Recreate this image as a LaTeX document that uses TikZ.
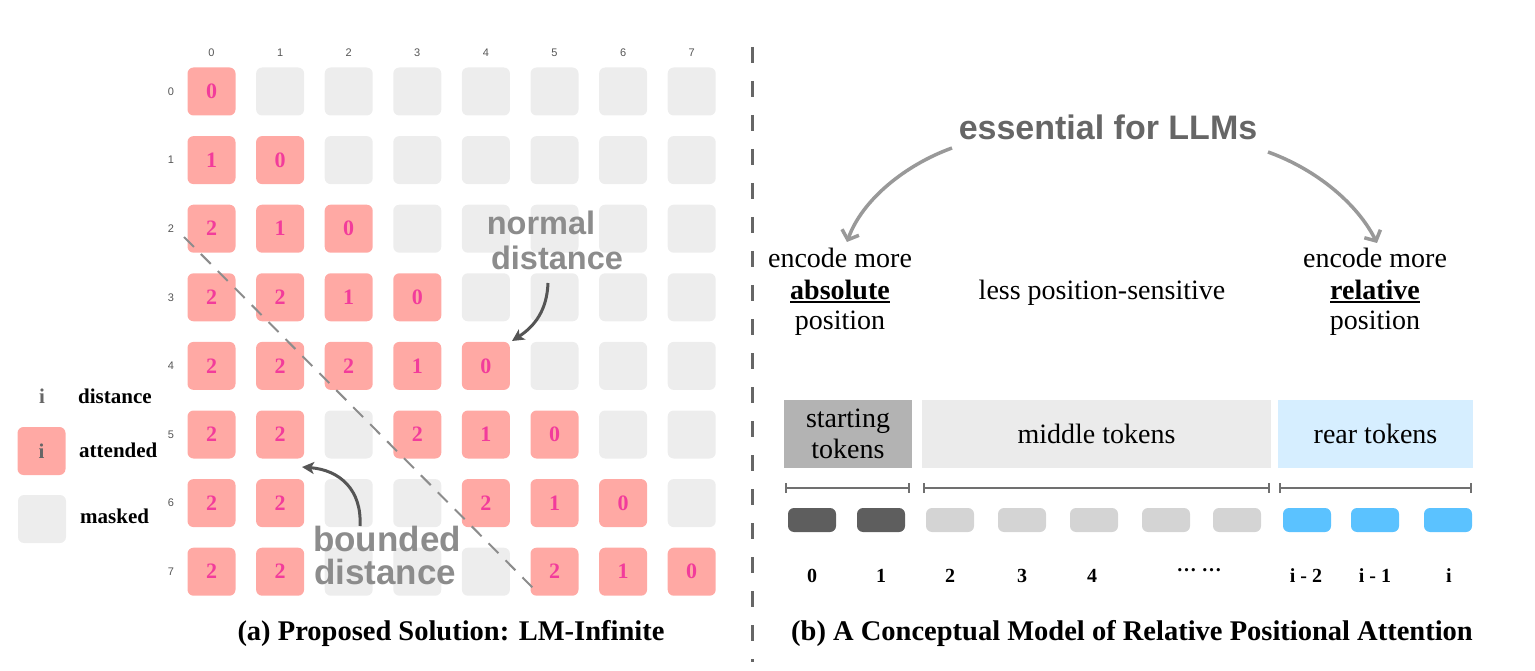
\documentclass[tikz,border=0pt]{standalone}
\usepackage{fontspec}
\setmainfont{Liberation Serif}
\newfontfamily\hsans{Liberation Sans}
\usetikzlibrary{arrows.meta}
\definecolor{pinkc}{HTML}{FFA9A4}
\definecolor{numc}{HTML}{F23C9B}
\definecolor{maskc}{HTML}{EDEDED}
\definecolor{axisc}{HTML}{555555}
\definecolor{notec}{HTML}{8C8C8C}
\definecolor{darkarr}{HTML}{555555}
\definecolor{ligharr}{HTML}{999999}
\definecolor{startc}{HTML}{B3B3B3}
\definecolor{midc}{HTML}{EBEBEB}
\definecolor{rearc}{HTML}{D6EEFF}
\definecolor{tokdark}{HTML}{5E5E5E}
\definecolor{toklight}{HTML}{D4D4D4}
\definecolor{tokblue}{HTML}{5BC2FF}
\definecolor{brackc}{HTML}{707070}
\definecolor{essc}{HTML}{666666}
\newcommand\thickul[1]{\leavevmode\vtop{\hbox{#1}\kern2pt\hrule height 1.8pt}}
\tikzset{
  cellp/.style={fill=pinkc, rounded corners=6pt, minimum width=48pt, minimum height=48pt, inner sep=0pt,
    text=numc, font=\fontsize{22}{22}\selectfont\bfseries},
  cellm/.style={fill=maskc, rounded corners=6pt, minimum width=48pt, minimum height=48pt, inner sep=0pt},
  axislab/.style={text=axisc, font=\hsans\fontsize{11}{11}\selectfont, inner sep=0pt},
  notelab/.style={anchor=base, text=notec, font=\hsans\fontsize{32.5}{35}\selectfont\bfseries, inner sep=0pt},
  legtext/.style={anchor=base west, font=\fontsize{21}{21}\selectfont\bfseries, inner sep=0pt},
  bigtext/.style={font=\fontsize{28}{31}\selectfont, align=center, inner sep=0pt},
  tokbox/.style={minimum height=68pt, inner sep=0pt, font=\fontsize{28}{31}\selectfont, align=center},
  pill/.style={rounded corners=6pt, minimum width=48pt, minimum height=24pt, inner sep=0pt},
  toklab/.style={anchor=base, font=\fontsize{20}{20}\selectfont\bfseries, inner sep=0pt},
  caplab/.style={anchor=base, font=\fontsize{28.5}{28.5}\selectfont\bfseries, inner sep=0pt},
  brack/.style={draw=brackc, line width=2pt, {Bar[width=10pt]}-{Bar[width=10pt]}},
  darkcurve/.style={draw=darkarr, line width=3pt, -{Stealth[length=12pt, width=12pt, inset=3pt]}},
  lightcurve/.style={draw=ligharr, line width=3.5pt, -{Straight Barb[length=8pt, width=18pt]}}
}
\begin{document}
\begin{tikzpicture}[x=1pt,y=-1pt]
\useasboundingbox (0,0) rectangle (1535,671);

% ---------- matrix ----------
\foreach \r [count=\i from 0] in {{0,9,9,9,9,9,9,9},{1,0,9,9,9,9,9,9},{2,1,0,9,9,9,9,9},{2,2,1,0,9,9,9,9},{2,2,2,1,0,9,9,9},{2,2,9,2,1,0,9,9},{2,2,9,9,2,1,0,9},{2,2,9,9,9,2,1,0}}{
  \foreach \v [count=\j from 0] in \r {
    \ifnum\v=9
      \node[cellm] (c\i\j) at ({211.5+68.6*\j},{91.5+68.6*\i}) {};
    \else
      \node[cellp] (c\i\j) at ({211.5+68.6*\j},{91.5+68.6*\i}) {\v};
    \fi
  }
}
\foreach \k in {0,...,7}{
  \node[axislab] (col\k) at ({211.5+68.6*\k},53) {\k};
  \node[axislab] (row\k) at (171,{91.5+68.6*\k}) {\k};
}

% diagonal dashed boundary
\coordinate (d1) at (184,237);
\coordinate (d2) at (538,593);
\draw[draw=notec, line width=2pt, dash pattern=on 14pt off 10pt] (d1) -- (d2);

% annotations
\node[notelab] (normalA) at (541,235) {normal};
\node[notelab] (normalB) at (557,270) {distance};
\coordinate (n1) at (548,283);
\coordinate (n2) at (512,341);
\draw[darkcurve] (n1) .. controls (547,310) and (535,326) .. (n2);

\node[notelab, font=\hsans\fontsize{35}{35}\selectfont\bfseries] (boundedA) at (387,551) {bounded};
\node[notelab, font=\hsans\fontsize{35}{35}\selectfont\bfseries] (boundedB) at (385,584) {distance};
\coordinate (b1) at (360,526);
\coordinate (b2) at (302,467);
\draw[darkcurve] (b1) .. controls (362,490) and (340,470) .. (b2);

% legend
\node[legtext, anchor=base, text=essc] (li) at (42,403) {i};
\node[legtext] (ldist) at (78,403) {distance};
\node[cellp, text=essc, font=\fontsize{21}{21}\selectfont\bfseries] (lpink) at (41.5,451) {i};
\node[legtext] (latt) at (79,457) {attended};
\node[cellm] (lgray) at (42,519) {};
\node[legtext] (lmask) at (80,523) {masked};

\node[caplab] (capa) at (451,640) {(a) Proposed Solution: LM-Infinite};

% ---------- separator ----------
\coordinate (s1) at (752,47);
\coordinate (s2) at (752,662);
\draw[draw=essc, line width=3pt, dash pattern=on 16pt off 18pt] (s1) -- (s2);

% ---------- right panel ----------
\node[anchor=base, text=essc, font=\hsans\fontsize{34}{34}\selectfont\bfseries, inner sep=0pt] (ess) at (1108,140) {essential for LLMs};
\coordinate (a1) at (952,148);
\coordinate (a2) at (847,242);
\draw[lightcurve] (a1) .. controls (905,165) and (862,200) .. (a2);
\coordinate (r1) at (1268,152);
\coordinate (r2) at (1377,243);
\draw[lightcurve] (r1) .. controls (1318,170) and (1358,205) .. (r2);

\node[bigtext, anchor=base] (absA) at (840,268) {encode more};
\node[bigtext, anchor=base] (absB) at (840,299) {\thickul{\bfseries absolute}};
\node[bigtext, anchor=base] (absC) at (840,330) {position};
\node[bigtext, anchor=base] (less) at (1102,299) {less position-sensitive};
\node[bigtext, anchor=base] (relA) at (1375,268) {encode more};
\node[bigtext, anchor=base] (relB) at (1375,299) {\thickul{\bfseries relative}};
\node[bigtext, anchor=base] (relC) at (1375,330) {position};

\node[tokbox, fill=startc, minimum width=128pt] (start) at (848,434) {starting\\tokens};
\node[tokbox, fill=midc, minimum width=349pt] (middle) at (1096.5,434) {middle tokens};
\node[tokbox, fill=rearc, minimum width=195pt] (rear) at (1375.5,434) {rear tokens};

\coordinate (k1) at (785,488);
\coordinate (k2) at (910,488);
\coordinate (k3) at (923,488);
\coordinate (k4) at (1270,488);
\coordinate (k5) at (1279,488);
\coordinate (k6) at (1472,488);
\draw[brack] (k1) -- (k2);
\draw[brack] (k3) -- (k4);
\draw[brack] (k5) -- (k6);

\foreach \x [count=\n] in {812,881}{\node[pill, fill=tokdark] (t\n) at (\x,520) {};}
\foreach \x [count=\n from 3] in {950,1022,1094,1166,1237}{\node[pill, fill=toklight] (t\n) at (\x,520) {};}
\foreach \x [count=\n from 8] in {1307,1375,1448}{\node[pill, fill=tokblue] (t\n) at (\x,520) {};}

\node[toklab] (l0) at (812,582) {0};
\node[toklab] (l1) at (881,582) {1};
\node[toklab] (l2) at (950,582) {2};
\node[toklab] (l3) at (1022,582) {3};
\node[toklab] (l4) at (1092,582) {4};
\node[toklab] (ldots) at (1199,571) {\dots\ \dots};
\node[toklab] (li2) at (1306,582) {i - 2};
\node[toklab] (li1) at (1375,582) {i - 1};
\node[toklab] (lii) at (1449,582) {i};

\node[caplab] (capb) at (1132,640) {(b) A Conceptual Model of Relative Positional Attention};
\end{tikzpicture}
\end{document}
